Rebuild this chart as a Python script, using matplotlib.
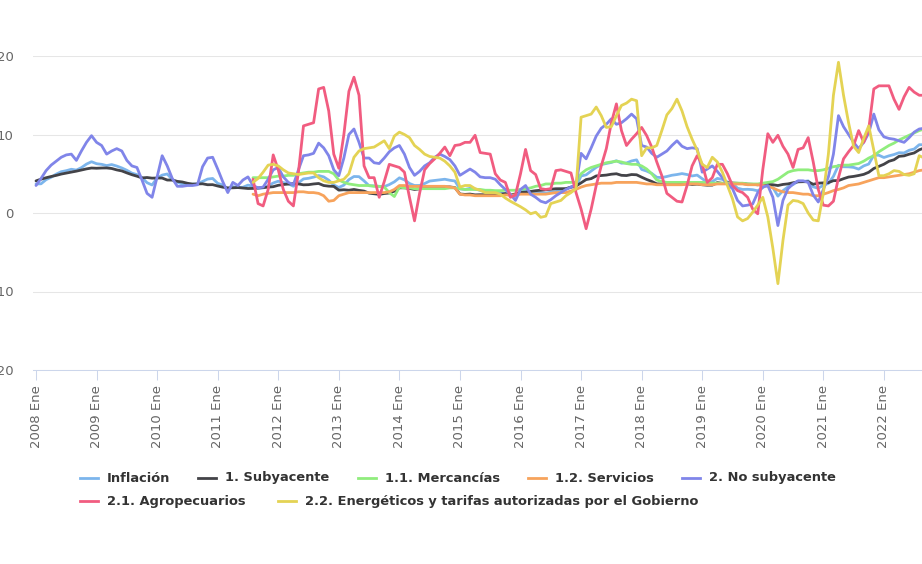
import numpy as np
import matplotlib.pyplot as plt
from matplotlib.lines import Line2D

# inflación anual, mensual desde 2008 Ene
inflacion = [3.70, 3.72, 4.25, 4.55, 4.95, 5.26, 5.39, 5.57, 5.47, 5.78, 6.23, 6.53,
             6.28, 6.20, 6.04, 6.17, 5.98, 5.74, 5.44, 5.08, 4.89, 4.50, 3.86, 3.57,
             4.46, 4.83, 4.97, 4.27, 3.92, 3.69, 3.64, 3.68, 3.70, 4.02, 4.32, 4.40,
             3.78, 3.57, 3.04, 3.36, 3.25, 3.28, 3.55, 3.42, 3.14, 3.20, 3.48, 3.82,
             4.05, 3.87, 3.73, 3.41, 3.85, 4.34, 4.42, 4.57, 4.77, 4.60, 4.18, 3.57,
             3.25, 3.55, 4.25, 4.65, 4.63, 4.09, 3.47, 3.46, 3.39, 3.36, 3.62, 3.97,
             4.48, 4.23, 3.76, 3.50, 3.51, 3.75, 4.07, 4.15, 4.22, 4.30, 4.17, 4.08,
             3.07, 3.00, 3.14, 3.06, 2.88, 2.87, 2.74, 2.59, 2.52, 2.48, 2.21, 2.13,
             2.61, 2.87, 2.60, 2.54, 2.60, 2.54, 2.65, 2.73, 2.97, 3.06, 3.31, 3.36,
             4.72, 4.86, 5.35, 5.82, 6.16, 6.31, 6.44, 6.66, 6.35, 6.37, 6.63, 6.77,
             5.55, 5.34, 5.04, 4.55, 4.51, 4.65, 4.81, 4.90, 5.02, 4.90, 4.72, 4.83,
             4.37, 3.94, 4.00, 4.41, 4.28, 3.95, 3.78, 3.16, 3.00, 3.02, 2.97, 2.83,
             3.24, 3.70, 3.25, 2.15, 2.84, 3.33, 3.62, 4.05, 4.01, 4.09, 3.33, 3.15,
             3.54, 3.76, 4.67, 6.08, 5.89, 5.88, 5.81, 5.59, 6.00, 6.24, 7.37, 7.36,
             7.07, 7.28, 7.45, 7.68, 7.65, 7.99, 8.15, 8.70, 8.70]

subyacente = [4.09, 4.31, 4.49, 4.65, 4.79, 4.96, 5.09, 5.21, 5.33, 5.47, 5.62, 5.73,
              5.70, 5.73, 5.74, 5.67, 5.49, 5.36, 5.11, 4.88, 4.69, 4.47, 4.52, 4.44,
              4.46, 4.45, 4.20, 4.19, 4.03, 3.95, 3.79, 3.68, 3.70, 3.72, 3.60, 3.61,
              3.44, 3.29, 3.20, 3.21, 3.24, 3.18, 3.12, 3.13, 3.18, 3.24, 3.30, 3.35,
              3.53, 3.63, 3.69, 3.74, 3.70, 3.59, 3.61, 3.70, 3.76, 3.50, 3.42, 3.39,
              2.91, 2.96, 2.90, 3.00, 2.88, 2.79, 2.53, 2.45, 2.37, 2.48, 2.55, 2.78,
              3.21, 3.21, 3.13, 3.00, 3.07, 3.15, 3.28, 3.27, 3.31, 3.32, 3.32, 3.24,
              2.42, 2.37, 2.41, 2.31, 2.33, 2.32, 2.31, 2.31, 2.38, 2.47, 2.34, 2.41,
              2.64, 2.65, 2.75, 2.84, 2.90, 2.97, 3.02, 3.09, 3.10, 3.10, 3.29, 3.44,
              3.84, 4.26, 4.38, 4.72, 4.78, 4.83, 4.94, 5.00, 4.80, 4.77, 4.90, 4.87,
              4.56, 4.27, 4.02, 3.71, 3.69, 3.62, 3.63, 3.63, 3.67, 3.73, 3.63, 3.68,
              3.60, 3.54, 3.55, 3.87, 3.77, 3.85, 3.82, 3.78, 3.75, 3.68, 3.65, 3.59,
              3.73, 3.66, 3.60, 3.50, 3.64, 3.71, 3.85, 3.97, 3.99, 3.98, 3.66, 3.80,
              3.84, 3.87, 4.12, 4.13, 4.37, 4.58, 4.66, 4.78, 4.92, 5.19, 5.67, 5.94,
              6.21, 6.59, 6.78, 7.22, 7.28, 7.49, 7.65, 8.05, 8.28]

no_subyacente = [3.5, 4.4, 5.4, 6.1, 6.6, 7.1, 7.4, 7.5, 6.7, 7.9, 9.0, 9.85,
                 9.0, 8.6, 7.5, 7.9, 8.2, 7.9, 6.7, 6.0, 5.8, 4.2, 2.5, 2.0,
                 4.6, 7.3, 6.0, 4.4, 3.4, 3.4, 3.5, 3.5, 3.6, 5.9, 7.0, 7.1,
                 5.6, 4.0, 2.6, 3.9, 3.5, 4.2, 4.6, 3.5, 3.2, 3.3, 4.3, 5.5,
                 5.8, 4.6, 3.9, 3.6, 5.5, 7.3, 7.4, 7.6, 8.9, 8.3, 7.3, 5.5,
                 4.75, 7.0, 10.0, 10.7, 9.0, 7.0, 7.0, 6.4, 6.3, 7.0, 7.8, 8.3,
                 8.6, 7.5, 5.8, 4.8, 5.3, 6.0, 6.4, 7.1, 7.5, 7.2, 6.8, 6.0,
                 4.8, 5.2, 5.6, 5.2, 4.6, 4.5, 4.5, 4.3, 3.6, 3.0, 2.4, 1.6,
                 3.0, 3.5, 2.4, 2.0, 1.5, 1.3, 1.7, 2.2, 2.6, 3.0, 3.3, 3.6,
                 7.6, 6.9, 8.3, 9.8, 10.8, 11.3, 12.0, 11.3, 11.5, 12.0, 12.6, 12.0,
                 8.6, 8.4, 7.6, 7.1, 7.5, 7.9, 8.6, 9.2, 8.5, 8.2, 8.3, 8.2,
                 5.2, 5.6, 6.0, 5.3, 4.5, 3.7, 3.1, 1.6, 0.9, 1.0, 1.15, 2.6,
                 3.3, 3.5, 2.0, -1.6, 1.6, 3.1, 3.7, 4.1, 4.1, 3.9, 2.3, 1.4,
                 3.0, 4.6, 7.5, 12.4, 11.0, 10.0, 9.0, 8.2, 9.0, 10.2, 12.6, 10.6,
                 9.7, 9.5, 9.4, 9.2, 9.0, 9.6, 10.3, 10.7, 10.8]

# subíndices: desde 2011 Ago
mercancias = [4.5, 4.5, 4.5, 4.5, 4.6,
              4.7, 4.7, 4.8, 4.8, 5.0, 5.1, 5.2, 5.2, 5.3, 5.3, 5.3, 5.0,
              4.2, 3.9, 3.7, 3.6, 3.5, 3.5, 3.5, 3.4, 3.4, 3.3, 2.6, 2.1,
              3.3, 3.2, 3.2, 3.1, 3.1, 3.1, 3.1, 3.1, 3.1, 3.1, 3.2, 3.2,
              3.1, 3.0, 3.0, 3.0, 3.0, 2.9, 2.9, 2.85, 2.85, 2.9, 2.9, 2.9,
              3.0, 3.1, 3.2, 3.4, 3.5, 3.7, 3.7, 3.8, 3.8, 3.9, 3.9, 3.9,
              5.0, 5.5, 5.8, 6.0, 6.2, 6.4, 6.5, 6.6, 6.5, 6.3, 6.2, 6.2,
              6.0, 5.6, 5.0, 4.2, 4.0, 3.9, 3.9, 3.9, 3.9, 3.9, 3.9, 3.9,
              3.9, 3.85, 3.8, 3.8, 3.8, 3.8, 3.8, 3.8, 3.8, 3.7, 3.7, 3.7,
              3.8, 3.9, 4.0, 4.3, 4.75, 5.2, 5.4, 5.5, 5.5, 5.5, 5.4, 5.4,
              5.5, 5.7, 5.9, 6.0, 6.1, 6.1, 6.2, 6.3, 6.6, 7.0, 7.3, 7.8,
              8.2, 8.6, 8.9, 9.3, 9.6, 9.9, 10.2, 10.5, 10.7]

servicios = [2.4, 2.2, 2.4, 2.5, 2.6,
             2.6, 2.6, 2.6, 2.6, 2.7, 2.7, 2.6, 2.6, 2.5, 2.2, 1.5, 1.6,
             2.2, 2.4, 2.6, 2.6, 2.6, 2.6, 2.6, 2.6, 2.6, 2.6, 2.7, 3.0,
             3.5, 3.5, 3.4, 3.4, 3.4, 3.4, 3.4, 3.4, 3.4, 3.4, 3.3, 3.2,
             2.4, 2.3, 2.3, 2.2, 2.2, 2.2, 2.2, 2.2, 2.2, 2.3, 2.3, 2.3,
             2.4, 2.4, 2.4, 2.4, 2.4, 2.4, 2.5, 2.6, 2.6, 2.6, 2.8, 3.0,
             3.3, 3.5, 3.6, 3.7, 3.8, 3.8, 3.8, 3.9, 3.9, 3.9, 3.9, 3.9,
             3.8, 3.7, 3.7, 3.6, 3.6, 3.6, 3.6, 3.6, 3.6, 3.7, 3.7, 3.7,
             3.6, 3.6, 3.6, 3.7, 3.7, 3.7, 3.7, 3.7, 3.7, 3.6, 3.6, 3.6,
             3.5, 3.4, 3.2, 2.9, 2.7, 2.6, 2.6, 2.5, 2.4, 2.4, 2.2, 2.2,
             2.4, 2.6, 2.85, 3.0, 3.2, 3.5, 3.6, 3.7, 3.9, 4.1, 4.3, 4.5,
             4.5, 4.6, 4.7, 4.8, 4.9, 5.0, 5.2, 5.4, 5.5]

agropecuarios = [4.3, 1.2, 0.9, 3.0, 7.4,
                 5.5, 3.0, 1.5, 0.9, 5.2, 11.1, 11.3, 11.5, 15.8, 16.0, 13.0, 7.5,
                 5.7, 10.0, 15.5, 17.3, 15.0, 6.0, 4.5, 4.5, 2.0, 4.0, 6.2, 6.0,
                 5.8, 5.2, 2.0, -1.0, 2.5, 5.5, 6.3, 6.9, 7.6, 8.4, 7.3, 8.6,
                 8.7, 9.0, 9.0, 9.9, 7.7, 7.6, 7.5, 5.0, 4.2, 3.9, 2.0, 2.3,
                 5.0, 8.1, 5.4, 4.9, 3.1, 3.0, 3.1, 5.4, 5.5, 5.3, 5.1, 2.6,
                 0.5, -2.0, 0.5, 3.5, 6.0, 8.2, 11.5, 13.9, 10.5, 8.6, 9.4, 10.1,
                 10.9, 9.85, 8.4, 6.5, 4.75, 2.5, 2.0, 1.5, 1.4, 3.5, 6.0, 7.3,
                 6.2, 3.9, 4.5, 6.2, 6.2, 5.0, 3.5, 2.85, 2.6, 2.0, 0.5, -0.1,
                 5.5, 10.1, 9.0, 9.9, 8.5, 7.5, 5.8, 8.1, 8.3, 9.6, 6.5, 3.0,
                 1.0, 0.9, 1.5, 4.5, 6.9, 7.8, 8.6, 10.5, 9.0, 10.7, 15.8, 16.2,
                 16.2, 16.2, 14.5, 13.2, 14.8, 16.0, 15.4, 15.0, 15.0]

energeticos = [3.9, 4.4, 5.2, 6.1, 6.2,
               6.0, 5.5, 5.1, 5.0, 4.9, 5.0, 5.1, 5.1, 4.5, 4.1, 3.9, 3.9,
               4.1, 4.3, 5.0, 7.1, 7.9, 8.2, 8.3, 8.4, 8.8, 9.2, 8.2, 9.8,
               10.3, 10.0, 9.6, 8.6, 8.1, 7.5, 7.2, 7.1, 7.0, 6.6, 6.0, 5.2,
               3.3, 3.5, 3.5, 3.1, 2.9, 2.6, 2.6, 2.6, 2.4, 1.9, 1.5, 1.15,
               0.8, 0.4, -0.1, 0.1, -0.55, -0.4, 1.2, 1.4, 1.6, 2.2, 2.6, 3.1,
               12.2, 12.4, 12.6, 13.5, 12.4, 10.9, 11.0, 12.4, 13.7, 14.0, 14.5, 14.3,
               7.3, 8.3, 8.3, 8.6, 10.5, 12.5, 13.3, 14.5, 13.0, 11.0, 9.4, 8.0,
               6.2, 5.8, 7.1, 6.5, 5.2, 3.5, 1.8, -0.5, -1.0, -0.7, 0.1, 1.0,
               2.0, -0.5, -4.5, -9.0, -3.5, 1.0, 1.6, 1.5, 1.2, 0.0, -0.9, -1.0,
               2.5, 7.5, 15.0, 19.2, 15.0, 11.5, 8.5, 7.7, 9.5, 11.1, 8.0, 4.75,
               4.75, 5.0, 5.4, 5.3, 4.9, 4.8, 5.0, 7.3, 7.0]

anios = list(range(2008, 2023))
inicio_sub = (2011 - 2008) * 12 + 7   # 2011 Ene = 36, Ago = 43

series = [
    ('Inflación', inflacion, 0, '#7cb5ec'),
    ('1. Subyacente', subyacente, 0, '#434348'),
    ('1.1. Mercancías', mercancias, inicio_sub, '#90ed7d'),
    ('1.2. Servicios', servicios, inicio_sub, '#f7a35c'),
    ('2. No subyacente', no_subyacente, 0, '#8085e9'),
    ('2.1. Agropecuarios', agropecuarios, inicio_sub, '#f15c80'),
    ('2.2. Energéticos y tarifas autorizadas por el Gobierno', energeticos, inicio_sub, '#e4d354'),
]

W, H = 922, 564
fig = plt.figure(figsize=(W / 100, H / 100), dpi=100)
px_mes = 5.047
ax = fig.add_axes([33 / W, (H - 370) / H, 911.5 / W, 314 / H])

for nombre, vals, ini, color in series:
    m = ini + np.arange(len(vals))
    ax.plot(m, vals, color=color, lw=2.0, solid_joinstyle='round', solid_capstyle='round')

x0 = -3 / px_mes
ax.set_xlim(x0, x0 + 911.5 / px_mes)
ax.set_ylim(-20, 20)

ax.set_yticks([-20, -10, 0, 10, 20])
ax.set_yticklabels(['-20', '-10', '0', '10', '20'])
ax.yaxis.grid(True, color='#e6e6e6', lw=0.75)
ax.set_axisbelow(True)
ax.tick_params(axis='y', length=0, pad=14, labelsize=9.5, labelcolor='#666666')

ax.set_xticks([(a - 2008) * 12 for a in anios])
ax.set_xticklabels([f'{a} Ene' for a in anios], rotation=90)
ax.tick_params(axis='x', length=7.2, width=0.75, color='#ccd6eb', pad=3.6,
               labelsize=9.5, labelcolor='#666666')

for s in ['left', 'right', 'top']:
    ax.spines[s].set_visible(False)
ax.spines['bottom'].set_color('#ccd6eb')
ax.spines['bottom'].set_linewidth(0.75)

# leyenda en dos filas
filas = [(478, [80, 198, 358, 528, 682]), (501, [80, 278])]
k = 0
for yfila, xs in filas:
    for xl in xs:
        nombre, _, _, color = series[k]
        yf = 1 - yfila / H
        fig.add_artist(Line2D([xl / W, (xl + 18) / W], [yf, yf], transform=fig.transFigure,
                              color=color, lw=2.0))
        fig.text((xl + 27) / W, yf, nombre, va='center', ha='left', fontsize=9.4,
                 fontweight='bold', color='#333333')
        k += 1

fig.savefig('out.png', dpi=100)
